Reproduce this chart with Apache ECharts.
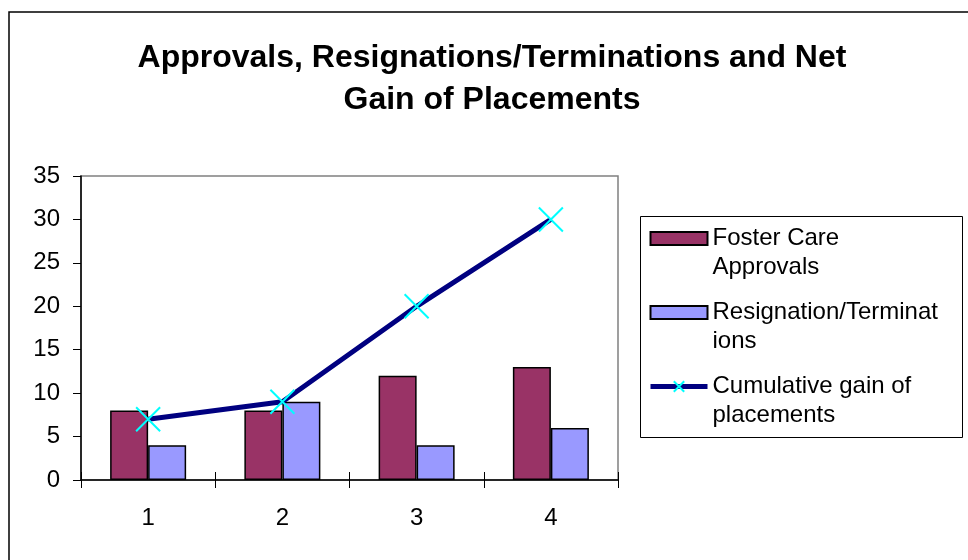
<!DOCTYPE html>
<html>
<head>
<meta charset="utf-8">
<script src="https://cdn.jsdelivr.net/npm/echarts@6/dist/echarts.min.js"></script>
<style>
  html, body { margin: 0; padding: 0; background: #fff; }
  #chart { width: 968px; height: 560px; }
</style>
</head>
<body>
<div id="chart"></div>
<script>
// chart data
const categories = ['1', '2', '3', '4']
const approvals = [8, 8, 12, 13]
const resignations = [4, 9, 4, 6]
const cumulativeGain = [7, 9, 20, 30]
const seriesNames = ['Foster Care Approvals', 'Resignation/Terminations', 'Cumulative gain of placements']
// leading blank line keeps the first text line level with the legend icon
const legendLabels = {
  'Foster Care Approvals': '\nFoster Care\nApprovals',
  'Resignation/Terminations': '\nResignation/Terminat\nions',
  'Cumulative gain of placements': '\nCumulative gain of\nplacements'
}

const font = '"Liberation Sans", Arial, sans-serif'
const chart = echarts.init(document.getElementById('chart'))

chart.setOption({
  animation: false,
  textStyle: { fontFamily: font, color: '#000' },
  title: {
    text: 'Approvals, Resignations/Terminations and Net\nGain of Placements',
    left: 487,
    textAlign: 'center',
    top: 32,
    textStyle: { fontFamily: font, fontSize: 32, fontWeight: 'bold', lineHeight: 42, color: '#000' }
  },
  graphic: [
    { type: 'rect', shape: { x: 9, y: 12, width: 1000, height: 600 }, style: { fill: 'none', stroke: '#000', lineWidth: 1.5 }, silent: true },
    { type: 'rect', shape: { x: 640.5, y: 216.5, width: 322, height: 221 }, style: { fill: '#fff', stroke: '#000', lineWidth: 1 }, z: -1, silent: true }
  ],
  legend: {
    orient: 'vertical',
    left: 648,
    top: 195,
    padding: 0,
    itemWidth: 57,
    itemHeight: 13,
    itemGap: -13,
    data: [
      { name: seriesNames[0], icon: 'rect' },
      { name: seriesNames[1], icon: 'rect' },
      { name: seriesNames[2] }
    ],
    formatter: name => legendLabels[name],
    lineStyle: { width: 5 },
    textStyle: { fontFamily: font, fontSize: 24, lineHeight: 29, color: '#000' }
  },
  grid: {
    left: 81,
    top: 176,
    right: 350,
    bottom: 80,
    show: true,
    borderColor: '#808080',
    borderWidth: 1.5
  },
  xAxis: [
    {
      type: 'category',
      data: categories,
      boundaryGap: true,
      axisLine: { lineStyle: { color: '#000', width: 1.5 } },
      axisTick: { show: true, length: 8, lineStyle: { color: '#000' } },
      axisLabel: { fontFamily: font, fontSize: 24, color: '#000', margin: 26 }
    },
    {
      type: 'category',
      data: categories,
      position: 'bottom',
      boundaryGap: true,
      axisLine: { show: false },
      axisTick: { show: true, inside: true, length: 8, lineStyle: { color: '#000' } },
      axisLabel: { show: false }
    }
  ],
  yAxis: {
    type: 'value',
    min: 0,
    max: 35,
    interval: 5,
    axisLine: { show: true, lineStyle: { color: '#000', width: 1.5 } },
    axisTick: { show: true, length: 8, lineStyle: { color: '#000' } },
    axisLabel: { fontFamily: font, fontSize: 24, color: '#000', margin: 21 },
    splitLine: { show: false }
  },
  series: [
    {
      name: seriesNames[0],
      type: 'bar',
      data: approvals,
      barWidth: 38,
      barGap: '0%',
      itemStyle: { color: '#993366', borderColor: '#000', borderWidth: 1.5 }
    },
    {
      name: seriesNames[1],
      type: 'bar',
      data: resignations,
      barWidth: 38,
      itemStyle: { color: '#9999FF', borderColor: '#000', borderWidth: 1.5 }
    },
    {
      name: seriesNames[2],
      type: 'line',
      data: cumulativeGain,
      z: 5,
      symbol: 'path://M0,0L10,10M10,0L0,10',
      symbolSize: 24,
      showAllSymbol: true,
      lineStyle: { color: '#000080', width: 5 },
      itemStyle: { color: 'none', borderColor: '#00FFFF', borderWidth: 2 }
    }
  ]
})
</script>
</body>
</html>
